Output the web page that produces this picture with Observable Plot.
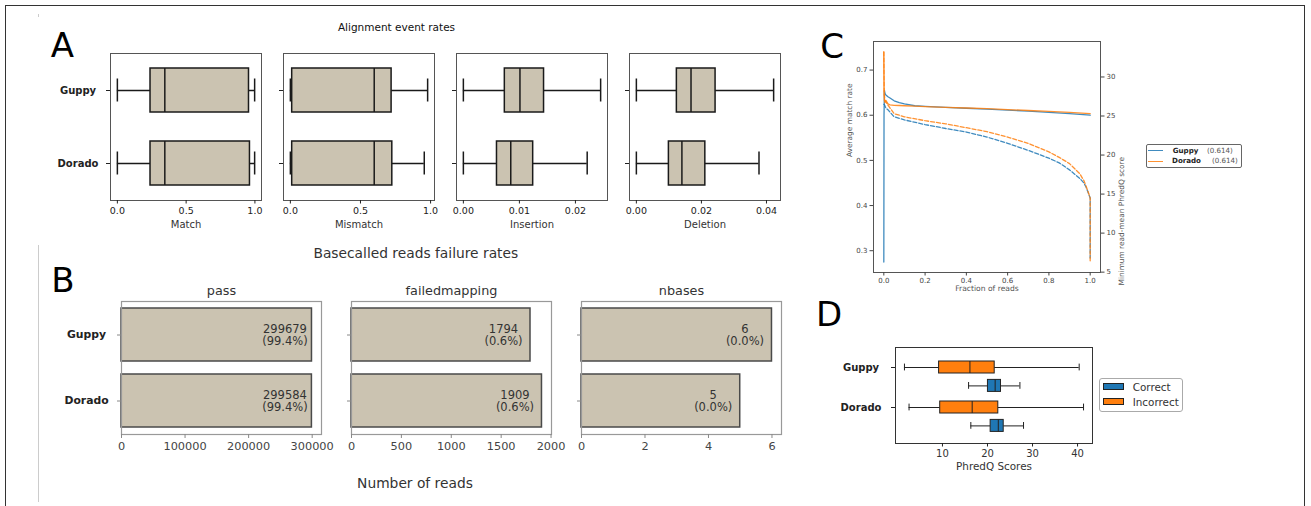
<!DOCTYPE html>
<html>
<head>
<meta charset="utf-8">
<script src="https://cdn.jsdelivr.net/npm/d3@7"></script>
<script src="https://cdn.jsdelivr.net/npm/@observablehq/plot@0.6"></script>
<style>
  body { margin: 0; background: #fff; }
  #fig { position: relative; width: 1311px; height: 506px; overflow: hidden; background: #fff;
         font-family: "DejaVu Sans", sans-serif; }
  .t { position: absolute; white-space: nowrap; line-height: 1; transform: translate(-50%, -50%); }
  .l { position: absolute; white-space: nowrap; line-height: 1; transform: translateY(-50%); }
</style>
</head>
<body>
<div id="fig"></div>
<script>
// ---------------- DATA ----------------
const groups = ["Guppy", "Dorado"];

// Panel A – alignment event rates, per group: [whiskerLow, Q1, median, Q3, whiskerHigh]
const alignMetrics = ["Match", "Mismatch", "Insertion", "Deletion"];
const matchStats = [[0, 0.241, 0.345, 0.957, 0.998], [0, 0.241, 0.345, 0.964, 0.998]];
const mismatchStats = [[0, 0.013, 0.598, 0.722, 0.979], [0, 0.013, 0.598, 0.727, 0.955]];
const insertionStats = [[0, 0.0074, 0.0101, 0.0144, 0.0245], [0, 0.0060, 0.00846, 0.01246, 0.0221]];
const deletionStats = [[0, 0.01245, 0.0168, 0.02435, 0.0422], [0, 0.0100, 0.0140, 0.0212, 0.0377]];
const matchTicks = [0, 0.5, 1.0];
const mismatchTicks = [0, 0.5, 1.0];
const insertionTicks = [0, 0.01, 0.02];
const deletionTicks = [0, 0.02, 0.04];

// Panel B – basecalled reads failure rates
const failCategories = ["pass", "failedmapping", "nbases"];
const passCounts = [299679, 299584];
const passPercents = ["99.4%", "99.4%"];
const failedmappingCounts = [1794, 1909];
const failedmappingPercents = ["0.6%", "0.6%"];
const nbasesCounts = [6, 5];
const nbasesPercents = ["0.0%", "0.0%"];
const passTicks = [0, 100000, 200000, 300000];
const failedmappingTicks = [0, 500, 1000, 1500, 2000];
const nbasesTicks = [0, 2, 4, 6];

// Panel C – average match rate (solid, left axis) and minimum read-mean PhredQ (dashed, right axis)
const fracSolid = [0, 0.001, 0.003, 0.006, 0.01, 0.02, 0.03, 0.05, 0.075, 0.1, 0.15, 0.2, 0.3, 0.4, 0.5, 0.6, 0.7, 0.8, 0.9, 1.0];
const guppyMatchRate = [0.275, 0.60, 0.655, 0.648, 0.645, 0.641, 0.638, 0.632, 0.628, 0.625, 0.621, 0.6195, 0.6175, 0.6155, 0.6135, 0.6115, 0.609, 0.6065, 0.6035, 0.600];
const doradoMatchRate = [0.74, 0.645, 0.632, 0.628, 0.633, 0.625, 0.623, 0.622, 0.6215, 0.621, 0.620, 0.619, 0.6175, 0.616, 0.6145, 0.6125, 0.6105, 0.6085, 0.6062, 0.6035];
const fracDashed = [0, 0.002, 0.005, 0.01, 0.02, 0.05, 0.1, 0.2, 0.3, 0.4, 0.5, 0.6, 0.7, 0.8, 0.85, 0.9, 0.95, 0.97, 0.98, 0.99, 1.0, 1.0];
const guppyMinQ = [26.5, 26.5, 26.3, 26.0, 25.8, 24.9, 24.5, 23.9, 23.4, 22.95, 22.3, 21.5, 20.6, 19.6, 19.0, 18.1, 17.0, 16.4, 15.9, 15.2, 14.5, 6.8];
const doradoMinQ = [33.2, 28.0, 27.0, 26.8, 26.4, 25.3, 24.9, 24.4, 24.0, 23.5, 23.0, 22.3, 21.5, 20.4, 19.7, 18.9, 17.6, 16.7, 16.0, 15.3, 14.5, 6.3];
const fracTicks = [0, 0.2, 0.4, 0.6, 0.8, 1.0];
const matchRateTicks = [0.3, 0.4, 0.5, 0.6, 0.7];
const minQTicks = [5, 10, 15, 20, 25, 30];
const legendScores = ["(0.614)", "(0.614)"];

// Panel D – PhredQ scores, [whiskerLow, Q1, median, Q3, whiskerHigh]
const phredClasses = ["Correct", "Incorrect"];
const guppyCorrectQ = [15.8, 20.1, 21.7, 23.0, 27.2];
const guppyIncorrectQ = [1.56, 9.25, 16.1, 21.6, 40.36];
const doradoCorrectQ = [16.3, 20.7, 22.4, 23.6, 28.0];
const doradoIncorrectQ = [2.58, 9.5, 16.6, 22.4, 41.33];
const phredTicks = [10, 20, 30, 40];

// ---------------- HELPERS ----------------
const fig = document.getElementById("fig");
const FONT = "'DejaVu Sans', sans-serif";
const BEIGE = "#cbc3b1";
const BLUE = "#1f77b4", ORANGE = "#ff7f0e";

function place(el, left, top) {
  el.style.position = "absolute";
  el.style.left = left + "px";
  el.style.top = top + "px";
  fig.appendChild(el);
  return el;
}
function div(css, text, cls) {
  const e = document.createElement("div");
  if (cls) e.className = cls;
  e.style.cssText = css;
  if (text != null) e.textContent = text;
  fig.appendChild(e);
  return e;
}
function padDomain(vals) {
  const lo = d3.min(vals), hi = d3.max(vals), r = hi - lo;
  return [lo - 0.05 * r, hi + 0.05 * r];
}
function baseStyle(color) {
  return {fontFamily: FONT, background: "transparent", overflow: "visible", color};
}

// ---------------- FIGURE DECOR ----------------
div("position:absolute;left:5px;top:5px;width:1300px;height:530px;border:1.5px solid #333;box-sizing:border-box;");
div("position:absolute;left:38px;top:245px;width:1px;height:257px;background:#ccc;");
div("position:absolute;left:38px;top:14px;width:1px;height:3px;background:#ccc;");

div("left:62.5px;top:44.5px;font-size:34px;color:#000;", "A", "t");
div("left:63px;top:280px;font-size:34px;color:#000;", "B", "t");
div("left:832px;top:46px;font-size:34px;color:#000;", "C", "t");
div("left:829px;top:314px;font-size:34px;color:#000;", "D", "t");

// ---------------- PANEL A ----------------
div("left:396.5px;top:27px;font-size:10.5px;color:#111;", "Alignment event rates", "t");
const alignStats = [matchStats, mismatchStats, insertionStats, deletionStats];
const alignTicks = [matchTicks, mismatchTicks, insertionTicks, deletionTicks];
const alignFormats = [".1f", ".1f", ".2f", ".2f"];
const aLefts = [110, 283, 456, 629];
const aTop = 53, aW = 151, aH = 147;

alignStats.forEach((stats, k) => {
  const rows = groups.map((g, j) => ({g, lo: stats[j][0], q1: stats[j][1], med: stats[j][2], q3: stats[j][3], hi: stats[j][4]}));
  const ml = k === 0 ? 70 : 12, mr = 8, mt = 4, mb = 36;
  const ink = {stroke: "#1a1a1a", strokeWidth: 1.5};
  const p = Plot.plot({
    width: ml + aW + mr, height: mt + aH + mb,
    marginLeft: ml, marginRight: mr, marginTop: mt, marginBottom: mb,
    style: baseStyle("#222"),
    x: {domain: padDomain(rows.flatMap(r => [r.lo, r.hi])), axis: null},
    y: {domain: groups, paddingInner: 0.4, paddingOuter: 0.2, axis: null},
    marks: [
      Plot.ruleY(rows, {y: "g", x1: "lo", x2: "q1", ...ink}),
      Plot.ruleY(rows, {y: "g", x1: "q3", x2: "hi", ...ink}),
      Plot.tickX(rows, {y: "g", x: "lo", insetTop: 10.5, insetBottom: 10.5, ...ink}),
      Plot.tickX(rows, {y: "g", x: "hi", insetTop: 10.5, insetBottom: 10.5, ...ink}),
      Plot.barX(rows, {y: "g", x1: "q1", x2: "q3", fill: BEIGE, ...ink}),
      Plot.tickX(rows, {y: "g", x: "med", ...ink}),
      Plot.frame({stroke: "#555", strokeWidth: 1}),
      Plot.axisX({ticks: alignTicks[k], tickFormat: d3.format(alignFormats[k]), tickSize: 3.5, tickPadding: 3, fontSize: 9.5, label: null}),
      Plot.axisY({tickSize: 4, tickPadding: 28.5, textAnchor: "middle", fontWeight: "bold", fontSize: 10,
                  tickFormat: k === 0 ? (d => d) : (() => ""), label: null}),
      Plot.text([alignMetrics[k]], {frameAnchor: "bottom", dy: 27, fontSize: 10, fill: "#333"})
    ]
  });
  place(p, aLefts[k] - ml, aTop - mt);
});

// ---------------- PANEL B ----------------
div("left:415.8px;top:254px;font-size:13.8px;color:#333;", "Basecalled reads failure rates", "t");
div("left:415px;top:484px;font-size:13.8px;color:#333;", "Number of reads", "t");
const failCounts = [passCounts, failedmappingCounts, nbasesCounts];
const failPercents = [passPercents, failedmappingPercents, nbasesPercents];
const failTicks = [passTicks, failedmappingTicks, nbasesTicks];
const bLefts = [121, 351, 581];
const bTop = 301, bW = 200, bH = 133;

failCounts.forEach((counts, k) => {
  const rows = groups.map((g, j) => ({g, count: counts[j], pct: failPercents[k][j]}));
  const ml = k === 0 ? 80 : 12, mr = 14, mt = 24, mb = 30;
  const p = Plot.plot({
    width: ml + bW + mr, height: mt + bH + mb,
    marginLeft: ml, marginRight: mr, marginTop: mt, marginBottom: mb,
    style: baseStyle("#333"),
    x: {domain: [0, d3.max(counts) * 1.05], axis: null},
    y: {domain: groups, paddingInner: 0.2, paddingOuter: 0.1, axis: null},
    marks: [
      Plot.barX(rows, {y: "g", x: "count", fill: BEIGE, stroke: "#4a4a4a", strokeWidth: 1.5}),
      Plot.text(rows, {y: "g", x: "count", text: d => `${d.count}\n(${d.pct})`, textAnchor: "middle",
                       dx: -27, lineHeight: 1.1, fontSize: 11.5, fill: "#333"}),
      Plot.frame({stroke: "#999", strokeWidth: 1.2}),
      Plot.axisX({ticks: failTicks[k], tickFormat: d3.format("d"), tickSize: 4, tickPadding: 3.5, fontSize: 11.3, stroke: "#888", fill: "#444", label: null}),
      Plot.axisY({tickSize: 4, tickPadding: 31, textAnchor: "middle", fontWeight: "bold", fontSize: 10.8, stroke: "#888", fill: "#222",
                  tickFormat: k === 0 ? (d => d) : (() => ""), label: null}),
      Plot.text([failCategories[k]], {frameAnchor: "top", dy: -11, lineAnchor: "middle", fontSize: 12.8, fill: "#333"})
    ]
  });
  place(p, bLefts[k] - ml, bTop - mt);
});

// ---------------- PANEL C ----------------
const cLeft = 873, cTop = 41, cW = 227, cH = 231;
const cm = {ml: 40, mr: 40, mt: 6, mb: 30};
const solidRows = (vals) => fracSolid.map((f, i) => ({f, v: vals[i]}));
const dashRows = (vals) => fracDashed.map((f, i) => ({f, v: vals[i]}));
const xDomC = padDomain([...fracSolid, ...fracDashed]);

const cLeftPlot = Plot.plot({
  width: cm.ml + cW + cm.mr, height: cm.mt + cH + cm.mb,
  marginLeft: cm.ml, marginRight: cm.mr, marginTop: cm.mt, marginBottom: cm.mb,
  style: baseStyle("#444"),
  x: {domain: xDomC, axis: null},
  y: {domain: padDomain([...guppyMatchRate, ...doradoMatchRate]), axis: null},
  marks: [
    Plot.line(solidRows(guppyMatchRate), {x: "f", y: "v", stroke: BLUE, strokeWidth: 1.3, strokeOpacity: 0.85}),
    Plot.line(solidRows(doradoMatchRate), {x: "f", y: "v", stroke: ORANGE, strokeWidth: 1.3, strokeOpacity: 0.85}),
    Plot.frame({stroke: "#555", strokeWidth: 1}),
    Plot.axisX({ticks: fracTicks, tickFormat: d3.format(".1f"), tickSize: 3.5, tickPadding: 2.5, fontSize: 7, label: null}),
    Plot.axisY({ticks: matchRateTicks, tickFormat: d3.format(".1f"), tickSize: 3.5, tickPadding: 2.5, fontSize: 7, label: null}),
    Plot.text(["Fraction of reads"], {frameAnchor: "bottom", dy: 18.5, fontSize: 7.6, fill: "#555"}),
    Plot.text(["Average match rate"], {frameAnchor: "left", dx: -24, rotate: -90, fontSize: 7.4, fill: "#555"})
  ]
});
place(cLeftPlot, cLeft - cm.ml, cTop - cm.mt);

const cRightPlot = Plot.plot({
  width: cm.ml + cW + cm.mr, height: cm.mt + cH + cm.mb,
  marginLeft: cm.ml, marginRight: cm.mr, marginTop: cm.mt, marginBottom: cm.mb,
  style: baseStyle("#444"),
  x: {domain: xDomC, axis: null},
  y: {domain: padDomain([...guppyMinQ, ...doradoMinQ]), axis: null},
  marks: [
    Plot.line(dashRows(guppyMinQ), {x: "f", y: "v", stroke: BLUE, strokeWidth: 1.3, strokeOpacity: 0.85, strokeDasharray: "4,2"}),
    Plot.line(dashRows(doradoMinQ), {x: "f", y: "v", stroke: ORANGE, strokeWidth: 1.3, strokeOpacity: 0.85, strokeDasharray: "4,2"}),
    Plot.axisY({anchor: "right", ticks: minQTicks, tickSize: 3.5, tickPadding: 2.5, fontSize: 7, label: null}),
    Plot.text(["Minimum read-mean PhredQ score"], {frameAnchor: "right", dx: 20.7, rotate: -90, fontSize: 7.4, fill: "#555"})
  ]
});
place(cRightPlot, cLeft - cm.ml, cTop - cm.mt);

// legend C
div("position:absolute;left:1146px;top:144px;width:96px;height:24px;border:1px solid #666;border-radius:2px;box-sizing:border-box;background:#fff;");
[[BLUE, 150.7, 1172.7, 1207], [ORANGE, 161.3, 1172, 1212]].forEach(([col, cy, tx, sx], j) => {
  div(`position:absolute;left:1148px;top:${cy - 0.7}px;width:15px;height:1.4px;background:${col};opacity:0.85;`);
  div(`left:${tx}px;top:${cy}px;font-size:7.1px;font-weight:bold;color:#222;`, groups[j], "l");
  div(`left:${sx}px;top:${cy}px;font-size:7.1px;color:#555;`, legendScores[j], "l");
});

// ---------------- PANEL D ----------------
const dLeft = 895, dTop = 347, dW = 197, dH = 96;
const dStats = [[guppyCorrectQ, guppyIncorrectQ], [doradoCorrectQ, doradoIncorrectQ]];
const dRows = [];
groups.forEach((g, i) => phredClasses.forEach((c, j) => {
  const s = dStats[i][j];
  dRows.push({g, c, pos: i + (c === "Correct" ? 0.46 : 0), lo: s[0], q1: s[1], med: s[2], q3: s[3], hi: s[4]});
}));
const dm = {ml: 60, mr: 10, mt: 5, mb: 34};
const bh = 0.15, ch = 0.085;
const dInk = {stroke: "#222", strokeWidth: 1};
const dPlot = Plot.plot({
  width: dm.ml + dW + dm.mr, height: dm.mt + dH + dm.mb,
  marginLeft: dm.ml, marginRight: dm.mr, marginTop: dm.mt, marginBottom: dm.mb,
  style: baseStyle("#222"),
  x: {domain: padDomain(dRows.flatMap(r => [r.lo, r.hi])), axis: null},
  y: {domain: [-0.5, 1.9], reverse: true, axis: null},
  color: {domain: phredClasses, range: [BLUE, ORANGE]},
  marks: [
    Plot.ruleY(dRows, {y: "pos", x1: "lo", x2: "q1", ...dInk}),
    Plot.ruleY(dRows, {y: "pos", x1: "q3", x2: "hi", ...dInk}),
    Plot.ruleX(dRows, {x: "lo", y1: d => d.pos - ch, y2: d => d.pos + ch, ...dInk}),
    Plot.ruleX(dRows, {x: "hi", y1: d => d.pos - ch, y2: d => d.pos + ch, ...dInk}),
    Plot.rect(dRows, {x1: "q1", x2: "q3", y1: d => d.pos - bh, y2: d => d.pos + bh, fill: "c", ...dInk}),
    Plot.ruleX(dRows, {x: "med", y1: d => d.pos - bh, y2: d => d.pos + bh, ...dInk}),
    Plot.frame({stroke: "#333", strokeWidth: 1}),
    Plot.axisX({ticks: phredTicks, tickSize: 3.5, tickPadding: 3, fontSize: 10, fill: "#333", label: null}),
    Plot.axisY({ticks: [0, 1], tickFormat: i => groups[i], tickSize: 4, tickPadding: 30.5, textAnchor: "middle",
                fontWeight: "bold", fontSize: 10, label: null}),
    Plot.text(["PhredQ Scores"], {frameAnchor: "bottom", dy: 26, fontSize: 10.4, fill: "#333"})
  ]
});
place(dPlot, dLeft - dm.ml, dTop - dm.mt);

// legend D
div("position:absolute;left:1099px;top:378px;width:84px;height:34px;border:1px solid #aaa;border-radius:3px;box-sizing:border-box;background:#fff;");
[[BLUE, 386.7], [ORANGE, 401.8]].forEach(([col, cy], j) => {
  div(`position:absolute;left:1102.7px;top:${cy - 3.6}px;width:21px;height:7.2px;background:${col};border:1px solid #222;box-sizing:border-box;`);
  div(`left:1132.7px;top:${cy}px;font-size:10.4px;color:#333;`, phredClasses[j], "l");
});
</script>
</body>
</html>
